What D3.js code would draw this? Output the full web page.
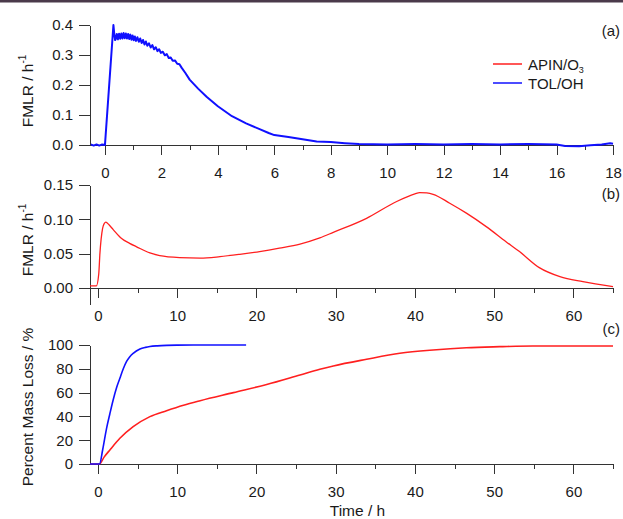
<!DOCTYPE html>
<html>
<head>
<meta charset="utf-8">
<script src="https://cdn.jsdelivr.net/npm/d3@7"></script>
<style>
  html, body { margin: 0; padding: 0; background: #fff; }
  svg { display: block; font-family: "Liberation Sans", Arial, sans-serif; }
  .axis path, .axis line { stroke: #333; stroke-width: 1; shape-rendering: crispEdges; }
  .axis text { fill: #1a1a1a; font-size: 15px; font-family: "Liberation Sans", Arial, sans-serif; }
</style>
</head>
<body>
<div id="chart"></div>
<script>
// --- Daten ---

// (a) FMLR TOL/OH, Zeit in h (0..18)
const tolFmlrTime = [-0.5, -0.4, -0.3, -0.2, -0.1, 0.0, 0.30, 0.33, 0.36,
  0.38, 0.42, 0.46, 0.50, 0.54, 0.58, 0.62, 0.66, 0.70, 0.74, 0.78, 0.82, 0.86, 0.90, 0.94, 0.98,
  1.02, 1.06, 1.10, 1.15, 1.20, 1.25, 1.30, 1.35, 1.40, 1.45, 1.50, 1.56, 1.62, 1.68, 1.74, 1.80,
  1.86, 1.92, 1.98, 2.05, 2.12, 2.19, 2.26, 2.33, 2.40, 2.48, 2.56, 2.64, 2.72, 2.85, 3.00,
  3.3, 3.6, 4.0, 4.5, 5.0, 5.5, 5.8, 6.0, 6.5, 7.0, 7.5, 8.0, 8.5, 9.0, 10, 11, 12, 13, 14, 15,
  16, 16.3, 16.8, 17.2, 17.6, 17.9, 18];
const tolFmlr = [0.002, -0.002, 0.002, -0.002, 0.002, 0.0, 0.400, 0.370, 0.350,
  0.352, 0.370, 0.352, 0.371, 0.354, 0.372, 0.355, 0.373, 0.356, 0.372, 0.355, 0.370, 0.353, 0.368, 0.351, 0.365,
  0.349, 0.362, 0.347, 0.359, 0.344, 0.355, 0.340, 0.350, 0.335, 0.345, 0.331, 0.339, 0.325, 0.333, 0.319, 0.326,
  0.313, 0.319, 0.307, 0.311, 0.299, 0.303, 0.290, 0.292, 0.281, 0.282, 0.271, 0.269, 0.257, 0.240, 0.218,
  0.188, 0.161, 0.129, 0.096, 0.072, 0.052, 0.040, 0.033, 0.027, 0.019, 0.012, 0.010, 0.006, 0.003, 0.002, 0.003, 0.002, 0.003, 0.002, 0.003,
  0.002, -0.003, -0.004, -0.001, 0.002, 0.006, 0.004];

// (b) FMLR APIN/O3, Zeit in h (0..65)
const apinFmlrTime = [-1, -0.2, 0.1, 0.25, 0.59, 0.8, 1.0, 1.4, 1.93, 2.99, 4.0, 4.88, 6.56, 7.8,
  10.3, 12.9, 15.4, 17.9, 20.4, 22.9, 25.5, 28, 29.7, 33.9, 37.7, 40.0, 40.6, 41.5, 42.3, 44.4,
  46.5, 49, 51.5, 53.2, 55.7, 58.3, 61.2, 65];
const apinFmlr = [0.003, 0.003, 0.020, 0.050, 0.087, 0.094, 0.096, 0.092, 0.085, 0.072, 0.065, 0.060, 0.051, 0.047,
  0.0442, 0.0435, 0.0456, 0.049, 0.053, 0.058, 0.064, 0.073, 0.081, 0.1015, 0.126, 0.137, 0.139, 0.1385, 0.1365, 0.1235,
  0.109, 0.0894, 0.0675, 0.053, 0.0296, 0.0165, 0.0092, 0.002];

// (c) Percent Mass Loss
const apinLossTime = [-1, 0.17, 0.8, 1.51, 2.77, 4.45, 6.56, 8.66, 10.8, 12.9, 17.1, 21.3, 25.5, 28,
  29.7, 33.9, 38.1, 42.3, 46.5, 50.7, 54.9, 65];
const apinLoss = [0, 0, 6, 11.8, 21.6, 31.4, 39.8, 44.8, 49.4, 53.2, 60, 66.8, 74.8, 79.6,
  82.4, 88, 93, 95.8, 97.7, 98.6, 99.2, 99.2];

const tolLossTime = [-1, 0.2, 0.6, 1.09, 1.5, 1.93, 2.35, 2.77, 3.2, 3.6, 4.0, 4.45, 5.3, 6.0, 6.56,
  7.5, 8.66, 10, 12, 15, 18.7];
const tolLoss = [0, 0, 12, 30, 42, 54, 64, 72, 80, 86, 90, 93, 96.6, 98, 98.7,
  99.3, 99.7, 99.9, 100, 100, 100];

// Tick-Werte
const ticksA = [0, 2, 4, 6, 8, 10, 12, 14, 16, 18];
const minorA = [1, 3, 5, 7, 9, 11, 13, 15, 17];
const ticksBC = [0, 10, 20, 30, 40, 50, 60];
const minorBC = [5, 15, 25, 35, 45, 55, 65];
const yTicksA = [0, 0.1, 0.2, 0.3, 0.4];
const yTicksB = [0, 0.05, 0.1, 0.15];
const yTicksC = [0, 20, 40, 60, 80, 100];

const series = ["APIN/O3", "TOL/OH"];
const colors = { red: "#ff1f1f", blue: "#1010ff" };

// --- Zeichenfläche ---
const W = 623, H = 519;
const left = 90, right = 613;

const svg = d3.select("#chart").append("svg")
  .attr("width", W)
  .attr("height", H);

// dunkler Streifen oben
svg.append("rect").attr("x", 0).attr("y", 0).attr("width", W).attr("height", 2.5).attr("fill", "#4b3a4b");

// Skalen
const xA = d3.scaleLinear().domain([-0.53, 18]).range([left, right]);
const yA = d3.scaleLinear().domain([0, 0.4]).range([145, 25]);
const xB = d3.scaleLinear().domain([-1, 65]).range([left, right]);
const yB = d3.scaleLinear().domain([0, 0.15]).range([288, 185]);
const yC = d3.scaleLinear().domain([0, 100]).range([464, 345]);

// Achsen für ein Panel
function drawAxes(x, y, xt, xm, yt, xFmt, yFmt) {
  const base = y.range()[0];
  svg.append("g").attr("class", "axis")
    .attr("transform", `translate(0,${base})`)
    .call(d3.axisBottom(x).tickValues(xm).tickSize(5).tickSizeOuter(0).tickFormat(""));
  svg.append("g").attr("class", "axis")
    .attr("transform", `translate(0,${base})`)
    .call(d3.axisBottom(x).tickValues(xt).tickSize(10).tickSizeOuter(0).tickPadding(12).tickFormat(xFmt));
  svg.append("g").attr("class", "axis")
    .attr("transform", `translate(${left},0)`)
    .call(d3.axisLeft(y).tickValues(yt).tickSize(11).tickSizeOuter(0).tickPadding(6).tickFormat(yFmt));
}

drawAxes(xA, yA, ticksA, minorA, yTicksA, d3.format("d"), d3.format(".1f"));
drawAxes(xB, yB, ticksBC, minorBC, yTicksB, d3.format("d"), d3.format(".2f"));
drawAxes(xB, yC, ticksBC, minorBC, yTicksC, d3.format("d"), d3.format("d"));

// Panel (b): y-Achse ragt unter die x-Achse
svg.append("line")
  .attr("x1", left).attr("x2", left)
  .attr("y1", yB(0)).attr("y2", yB(0) + 17)
  .attr("stroke", "#333").attr("stroke-width", 1)
  .attr("shape-rendering", "crispEdges");

// Linien zeichnen
function drawLine(times, vals, x, y, color, w, curve) {
  const pts = times.map((t, i) => [t, vals[i]]);
  svg.append("path")
    .datum(pts)
    .attr("fill", "none")
    .attr("stroke", color)
    .attr("stroke-width", w)
    .attr("stroke-linejoin", "round")
    .attr("d", d3.line().curve(curve).x(d => x(d[0])).y(d => y(d[1])));
}

drawLine(tolFmlrTime, tolFmlr, xA, yA, colors.blue, 2, d3.curveLinear);
drawLine(apinFmlrTime, apinFmlr, xB, yB, colors.red, 1.3, d3.curveMonotoneX);
drawLine(apinLossTime, apinLoss, xB, yC, colors.red, 1.6, d3.curveMonotoneX);
drawLine(tolLossTime, tolLoss, xB, yC, colors.blue, 1.6, d3.curveMonotoneX);

// Achsentitel
function yTitle(cy, parts) {
  const t = svg.append("text")
    .attr("transform", `translate(33,${cy}) rotate(-90)`)
    .attr("text-anchor", "middle")
    .attr("font-size", "15.5px")
    .attr("fill", "#1a1a1a");
  parts.forEach(p => {
    const s = t.append("tspan").text(p.text);
    if (p.sup) s.attr("font-size", "10px").attr("dy", "-7");
  });
}
yTitle(91, [{ text: "FMLR / h" }, { text: "-1", sup: true }]);
yTitle(240, [{ text: "FMLR / h" }, { text: "-1", sup: true }]);
yTitle(407, [{ text: "Percent Mass Loss / %" }]);

svg.append("text")
  .attr("x", (left + right) / 2 + 6)
  .attr("y", 516)
  .attr("text-anchor", "middle")
  .attr("font-size", "15.5px")
  .attr("fill", "#1a1a1a")
  .text("Time / h");

// Panel-Bezeichnungen
[["(a)", 36], ["(b)", 199], ["(c)", 334]].forEach(([lab, yy]) => {
  svg.append("text")
    .attr("x", 620).attr("y", yy)
    .attr("text-anchor", "end")
    .attr("font-size", "15px")
    .attr("fill", "#1a1a1a")
    .text(lab);
});

// Legende
const legend = svg.append("g").attr("transform", "translate(493,64)");
[colors.red, colors.blue].forEach((c, i) => {
  const g = legend.append("g").attr("transform", `translate(0,${i * 19})`);
  g.append("line").attr("x1", 0).attr("x2", 29).attr("y1", 0).attr("y2", 0)
    .attr("stroke", c).attr("stroke-width", 1.5);
  const t = g.append("text").attr("x", 35).attr("y", 5.5)
    .attr("font-size", "15px").attr("fill", "#1a1a1a");
  if (i === 0) {
    t.append("tspan").text("APIN/O");
    t.append("tspan").text("3").attr("font-size", "9px").attr("dy", "3");
  } else {
    t.text(series[1]);
  }
});
</script>
</body>
</html>
